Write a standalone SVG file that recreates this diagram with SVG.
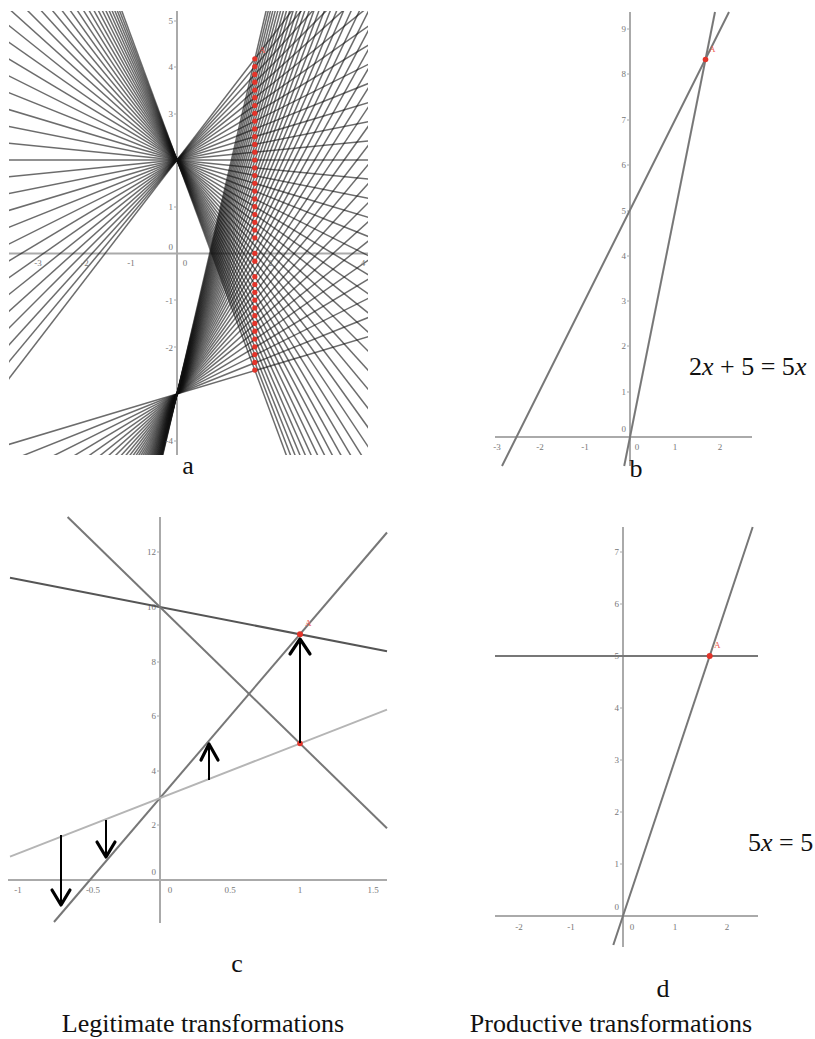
<svg xmlns="http://www.w3.org/2000/svg" width="815" height="1039" viewBox="0 0 815 1039">
<style>
.fam{stroke:#111;stroke-opacity:.62;stroke-width:1.5;fill:none}
.ax{stroke:#aaa;stroke-width:2;fill:none}
.tk{stroke:#aaa;stroke-width:1;fill:none}
.tl{font-family:"Liberation Serif",serif;font-size:9px;fill:#777}
.ln{stroke:#777;stroke-width:2;fill:none}
.ln2{stroke:#555;stroke-width:2;fill:none}
.ln3{stroke:#b5b5b5;stroke-width:2;fill:none}
.dot{fill:#e3342a}
.pl{font-family:"Liberation Serif",serif;font-size:9px;fill:#ef5a50}
.cap{font-family:"Liberation Serif",serif;font-size:26px;fill:#111}
.arr{stroke:#000;stroke-width:2;fill:none}
.ah{stroke:#000;stroke-width:3.2;fill:none;stroke-linecap:round;stroke-linejoin:round}
</style>
<defs>
<clipPath id="ca"><rect x="9" y="11" width="359" height="444"/></clipPath>
</defs>
<rect width="815" height="1039" fill="#fff"/>

<g id="panel-a">
<g clip-path="url(#ca)">
<path class="ax" d="M9 253.5H368M177 11V455"/>
<g id="family-1">
<path class="fam" d="M-223 -920L577 1240"/>
<path class="fam" d="M-223 -880L577 1200"/>
<path class="fam" d="M-223 -840L577 1160"/>
<path class="fam" d="M-223 -800L577 1120"/>
<path class="fam" d="M-223 -760L577 1080"/>
<path class="fam" d="M-223 -720L577 1040"/>
<path class="fam" d="M-223 -680L577 1000"/>
<path class="fam" d="M-223 -640L577 960"/>
<path class="fam" d="M-223 -600L577 920"/>
<path class="fam" d="M-223 -560L577 880"/>
<path class="fam" d="M-223 -520L577 840"/>
<path class="fam" d="M-223 -480L577 800"/>
<path class="fam" d="M-223 -440L577 760"/>
<path class="fam" d="M-223 -400L577 720"/>
<path class="fam" d="M-223 -360L577 680"/>
<path class="fam" d="M-223 -320L577 640"/>
<path class="fam" d="M-223 -280L577 600"/>
<path class="fam" d="M-223 -240L577 560"/>
<path class="fam" d="M-223 -200L577 520"/>
<path class="fam" d="M-223 -160L577 480"/>
<path class="fam" d="M-223 -120L577 440"/>
<path class="fam" d="M-223 -80L577 400"/>
<path class="fam" d="M-223 -40L577 360"/>
<path class="fam" d="M-223 0L577 320"/>
<path class="fam" d="M-223 40L577 280"/>
<path class="fam" d="M-223 80L577 240"/>
<path class="fam" d="M-223 120L577 200"/>
<path class="fam" d="M-223 160L577 160"/>
<path class="fam" d="M-223 200L577 120"/>
<path class="fam" d="M-223 240L577 80"/>
<path class="fam" d="M-223 280L577 40"/>
<path class="fam" d="M-223 320L577 0"/>
<path class="fam" d="M-223 360L577 -40"/>
<path class="fam" d="M-223 400L577 -80"/>
<path class="fam" d="M-223 440L577 -120"/>
<path class="fam" d="M-223 480L577 -160"/>
<path class="fam" d="M-223 520L577 -200"/>
<path class="fam" d="M-223 560L577 -240"/>
<path class="fam" d="M-223 600L577 -280"/>
<path class="fam" d="M-223 640L577 -320"/>
<path class="fam" d="M-223 680L577 -360"/>
</g>
<g id="family-2">
<path class="fam" d="M-223 514L577 274"/>
<path class="fam" d="M-223 554L577 234"/>
<path class="fam" d="M-223 594L577 194"/>
<path class="fam" d="M-223 634L577 154"/>
<path class="fam" d="M-223 674L577 114"/>
<path class="fam" d="M-223 714L577 74"/>
<path class="fam" d="M-223 754L577 34"/>
<path class="fam" d="M-223 794L577 -6"/>
<path class="fam" d="M-223 834L577 -46"/>
<path class="fam" d="M-223 874L577 -86"/>
<path class="fam" d="M-223 914L577 -126"/>
<path class="fam" d="M-223 954L577 -166"/>
<path class="fam" d="M-223 994L577 -206"/>
<path class="fam" d="M-223 1034L577 -246"/>
<path class="fam" d="M-223 1074L577 -286"/>
<path class="fam" d="M-223 1114L577 -326"/>
<path class="fam" d="M-223 1154L577 -366"/>
<path class="fam" d="M-223 1194L577 -406"/>
<path class="fam" d="M-223 1234L577 -446"/>
<path class="fam" d="M-223 1274L577 -486"/>
<path class="fam" d="M-223 1314L577 -526"/>
<path class="fam" d="M-223 1354L577 -566"/>
<path class="fam" d="M-223 1394L577 -606"/>
<path class="fam" d="M-223 1434L577 -646"/>
<path class="fam" d="M-223 1474L577 -686"/>
<path class="fam" d="M-223 1514L577 -726"/>
<path class="fam" d="M-223 1554L577 -766"/>
<path class="fam" d="M-223 1594L577 -806"/>
<path class="fam" d="M-223 1634L577 -846"/>
<path class="fam" d="M-223 1674L577 -886"/>
<path class="fam" d="M-223 1714L577 -926"/>
<path class="fam" d="M-223 1754L577 -966"/>
<path class="fam" d="M-223 1794L577 -1006"/>
<path class="fam" d="M-223 1834L577 -1046"/>
<path class="fam" d="M-223 1874L577 -1086"/>
<path class="fam" d="M-223 1914L577 -1126"/>
<path class="fam" d="M-223 1954L577 -1166"/>
<path class="fam" d="M-223 1994L577 -1206"/>
<path class="fam" d="M-223 2034L577 -1246"/>
<path class="fam" d="M-223 2074L577 -1286"/>
<path class="fam" d="M-223 2114L577 -1326"/>
</g>
</g>
<path class="tk" d="M174 21H177M174 67H177M174 114H177M174 207H177M174 300H177M174 347H177M174 441H177"/>
<g class="tl" text-anchor="end">
<text x="173" y="24">5</text><text x="173" y="70">4</text><text x="173" y="117">3</text>
<text x="173" y="210">1</text><text x="173" y="250">0</text><text x="173" y="304">-1</text>
<text x="173" y="351">-2</text><text x="173" y="444">-4</text>
</g>
<g class="tl" text-anchor="middle">
<text x="38" y="266">-3</text><text x="85" y="266">-2</text><text x="131" y="266">-1</text>
<text x="185" y="266">0</text><text x="270" y="266">2</text><text x="363" y="266">4</text>
</g>
<g id="points-a">
<circle class="dot" cx="254.8" cy="58.8" r="2.6"/><circle class="dot" cx="254.8" cy="66.6" r="2.6"/>
<circle class="dot" cx="254.8" cy="74.4" r="2.6"/><circle class="dot" cx="254.8" cy="82.2" r="2.6"/>
<circle class="dot" cx="254.8" cy="90" r="2.6"/><circle class="dot" cx="254.8" cy="97.7" r="2.6"/>
<circle class="dot" cx="254.8" cy="105.5" r="2.6"/><circle class="dot" cx="254.8" cy="113.3" r="2.6"/>
<circle class="dot" cx="254.8" cy="121.1" r="2.6"/><circle class="dot" cx="254.8" cy="128.9" r="2.6"/>
<circle class="dot" cx="254.8" cy="136.7" r="2.6"/><circle class="dot" cx="254.8" cy="144.4" r="2.6"/>
<circle class="dot" cx="254.8" cy="152.2" r="2.6"/><circle class="dot" cx="254.8" cy="160" r="2.6"/>
<circle class="dot" cx="254.8" cy="167.8" r="2.6"/><circle class="dot" cx="254.8" cy="175.6" r="2.6"/>
<circle class="dot" cx="254.8" cy="183.3" r="2.6"/><circle class="dot" cx="254.8" cy="191.1" r="2.6"/>
<circle class="dot" cx="254.8" cy="198.9" r="2.6"/><circle class="dot" cx="254.8" cy="206.7" r="2.6"/>
<circle class="dot" cx="254.8" cy="214.5" r="2.6"/><circle class="dot" cx="254.8" cy="222.3" r="2.6"/>
<circle class="dot" cx="254.8" cy="230" r="2.6"/><circle class="dot" cx="254.8" cy="237.8" r="2.6"/>
<circle class="dot" cx="254.8" cy="253.4" r="2.6"/><circle class="dot" cx="254.8" cy="261.2" r="2.6"/>
<circle class="dot" cx="254.8" cy="276.7" r="2.6"/><circle class="dot" cx="254.8" cy="284.5" r="2.6"/>
<circle class="dot" cx="254.8" cy="292.3" r="2.6"/><circle class="dot" cx="254.8" cy="300.1" r="2.6"/>
<circle class="dot" cx="254.8" cy="307.9" r="2.6"/><circle class="dot" cx="254.8" cy="315.7" r="2.6"/>
<circle class="dot" cx="254.8" cy="323.4" r="2.6"/><circle class="dot" cx="254.8" cy="331.2" r="2.6"/>
<circle class="dot" cx="254.8" cy="339" r="2.6"/><circle class="dot" cx="254.8" cy="346.8" r="2.6"/>
<circle class="dot" cx="254.8" cy="354.6" r="2.6"/><circle class="dot" cx="254.8" cy="362.4" r="2.6"/>
<circle class="dot" cx="254.8" cy="370.1" r="2.6"/>
<text class="pl" x="259" y="53">A</text>
</g>
<text class="cap" x="188" y="474" text-anchor="middle">a</text>
</g>

<g id="panel-b">
<path class="ax" d="M495 437H752M630 12V466"/>
<path class="tk" d="M627 29H630M627 74H630M627 120H630M627 165H630M627 211H630M627 256H630M627 301H630M627 346H630M627 392H630"/>
<g class="tl" text-anchor="end">
<text x="626" y="32">9</text><text x="626" y="77">8</text><text x="626" y="123">7</text>
<text x="626" y="168">6</text><text x="626" y="214">5</text><text x="626" y="259">4</text>
<text x="626" y="304">3</text><text x="626" y="349">2</text><text x="626" y="395">1</text>
<text x="626" y="432">0</text>
</g>
<g class="tl" text-anchor="middle">
<text x="497" y="450">-3</text><text x="540" y="450">-2</text><text x="585" y="450">-1</text>
<text x="637" y="450">0</text><text x="675" y="450">1</text><text x="720" y="450">2</text>
</g>
<path class="ln" d="M502 466L729 12"/>
<path class="ln" d="M624.2 466L715 12"/>
<circle class="dot" cx="705.5" cy="59.5" r="2.8"/>
<text class="pl" x="709" y="52">A</text>
<text class="cap" x="689" y="375" font-size="27">2<tspan font-style="italic">x</tspan> + 5 = 5<tspan font-style="italic">x</tspan></text>
<text class="cap" x="636" y="477" text-anchor="middle">b</text>
</g>

<g id="panel-c">
<path class="ax" d="M8 880H387M160 517V923"/>
<path class="tk" d="M157 552H160M157 607H160M157 662H160M157 716H160M157 771H160M157 825H160"/>
<g class="tl" text-anchor="end">
<text x="156" y="555">12</text><text x="156" y="610">10</text><text x="156" y="665">8</text>
<text x="156" y="719">6</text><text x="156" y="774">4</text><text x="156" y="828">2</text>
<text x="156" y="875">0</text>
</g>
<g class="tl" text-anchor="middle">
<text x="18" y="893">-1</text><text x="93" y="893">-0.5</text><text x="170" y="893">0</text>
<text x="230" y="893">0.5</text><text x="300" y="893">1</text><text x="373" y="893">1.5</text>
</g>
<path class="ln2" d="M10 577.8L387 651.3"/>
<path class="ln" d="M67.6 517L387 828.3"/>
<path class="ln" d="M54 922L387 532.5"/>
<path class="ln3" d="M10 856.6L387 709.6"/>
<circle class="dot" cx="300" cy="634.3" r="3"/>
<circle class="dot" cx="300" cy="743.5" r="2.8"/>
<text class="pl" x="305" y="626">A</text>
<text class="cap" x="237" y="972" text-anchor="middle">c</text>
</g>

<g id="arrows">
<path class="arr" d="M300 743V640"/>
<path class="ah" d="M290 654L300 639L310 654"/>
<path class="arr" d="M209 780V745"/>
<path class="ah" d="M201 760L209 744L218 760"/>
<path class="arr" d="M106 820V855"/>
<path class="ah" d="M97 842L106 857L115 842"/>
<path class="arr" d="M61 835V903"/>
<path class="ah" d="M52 890L61 905L70 890"/>
</g>

<g id="panel-d">
<path class="ax" d="M495 916H758M623 527V947"/>
<path class="ln" d="M495 656H758"/>
<path class="tk" d="M620 552H623M620 604H623M620 708H623M620 760H623M620 812H623M620 864H623"/>
<g class="tl" text-anchor="end">
<text x="619" y="555">7</text><text x="619" y="607">6</text><text x="619" y="659">5</text>
<text x="619" y="711">4</text><text x="619" y="763">3</text><text x="619" y="815">2</text>
<text x="619" y="867">1</text><text x="619" y="910">0</text>
</g>
<g class="tl" text-anchor="middle">
<text x="519" y="930">-2</text><text x="571" y="930">-1</text><text x="632" y="930">0</text>
<text x="675" y="930">1</text><text x="727" y="930">2</text>
</g>
<path class="ln" d="M613.3 945L752.7 527"/>
<circle class="dot" cx="709.7" cy="656" r="3"/>
<text class="pl" x="714" y="648">A</text>
<text class="cap" x="748" y="851" font-size="23">5<tspan font-style="italic">x</tspan> = 5</text>
<text class="cap" x="663" y="997" text-anchor="middle">d</text>
</g>

<g id="captions">
<text class="cap" x="203" y="1032" text-anchor="middle">Legitimate transformations</text>
<text class="cap" x="611" y="1032" text-anchor="middle">Productive transformations</text>
</g>
</svg>
